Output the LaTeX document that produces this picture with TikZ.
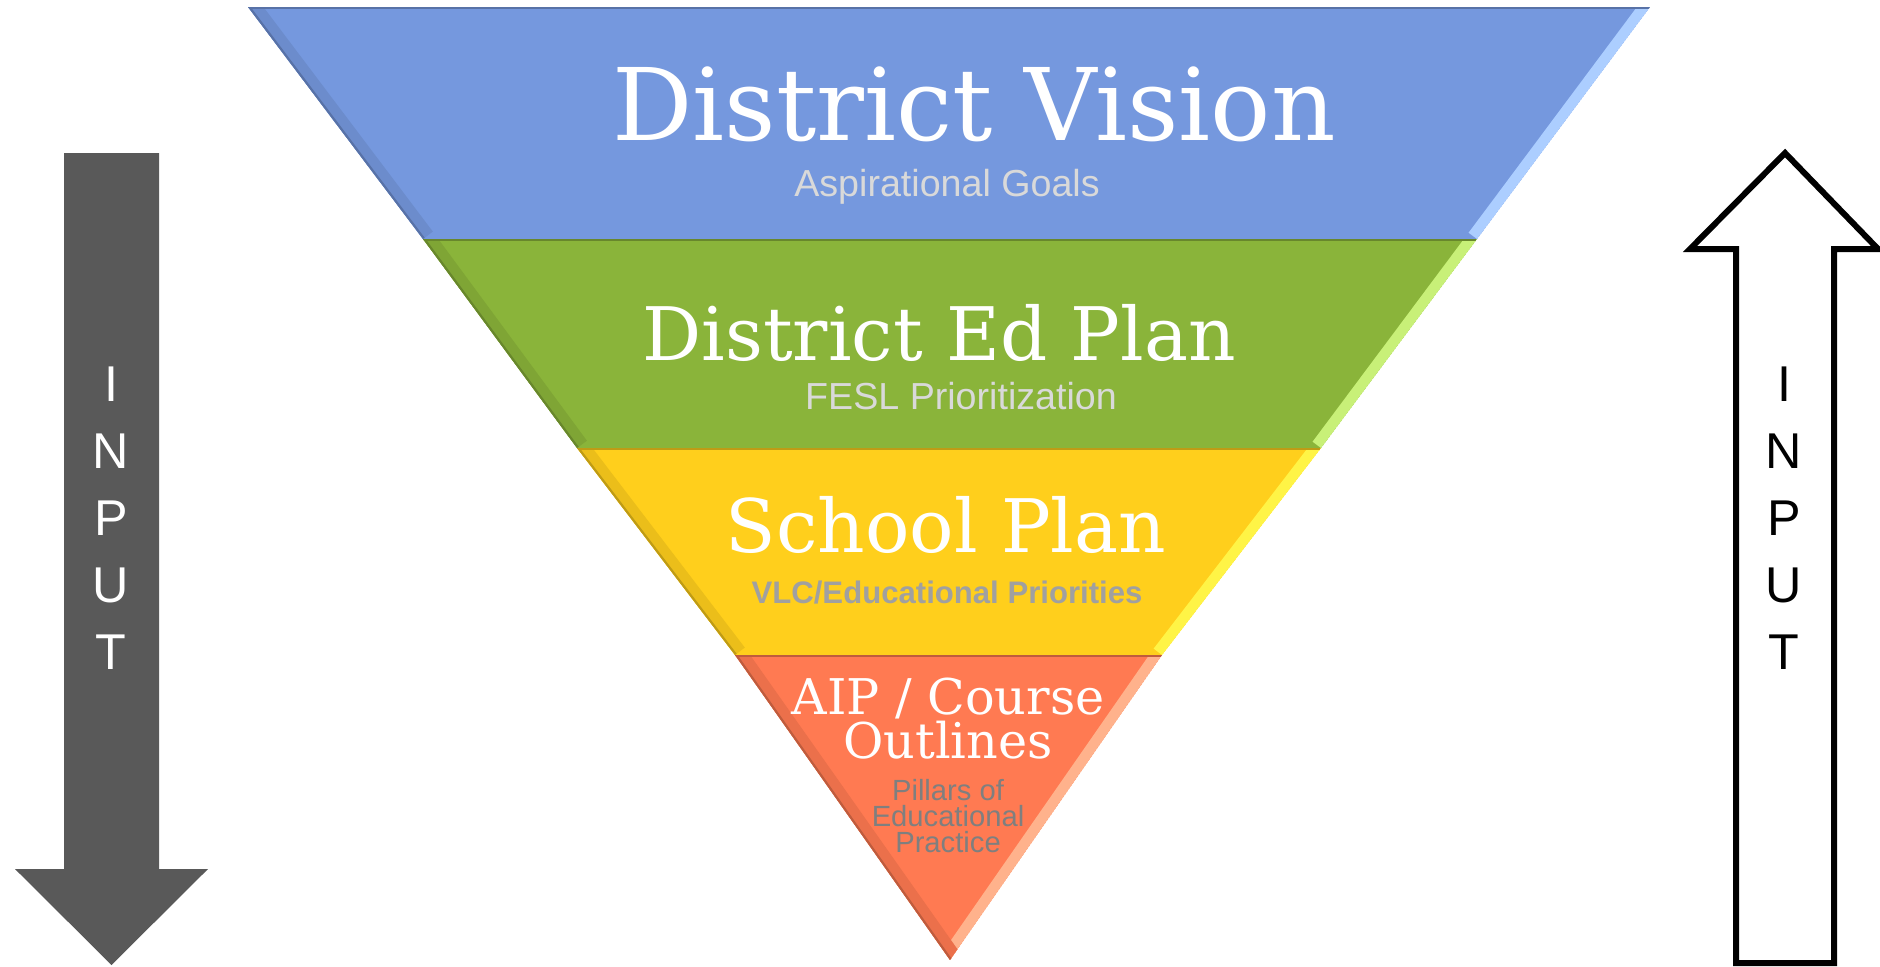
\documentclass[tikz,border=0pt]{standalone}
\usepackage{fontspec}
\usepackage{xcolor}
\usetikzlibrary{positioning}
\newfontfamily\slabfont{DejaVu Serif}
\newfontfamily\robofont{Liberation Sans}
\definecolor{vision}{RGB}{117, 152, 222}
\definecolor{visionhi}{RGB}{172, 206, 255}
\definecolor{edplan}{RGB}{138, 180, 58}
\definecolor{edplanhi}{RGB}{200, 240, 120}
\definecolor{school}{RGB}{255, 207, 28}
\definecolor{schoolhi}{RGB}{255, 244, 70}
\definecolor{aip}{RGB}{255, 122, 82}
\definecolor{aiphi}{RGB}{255, 178, 140}
\definecolor{arrowgray}{RGB}{89, 89, 89}
\definecolor{lightsub}{RGB}{217, 217, 217}
\definecolor{midsub}{RGB}{160, 160, 160}
\definecolor{darksub}{RGB}{127, 127, 127}
\tikzstyle{title} = [
    text=white,
    inner sep=0pt,
    anchor=base,
    font=\slabfont\fontsize{21}{21}\selectfont
]
\tikzstyle{subtitle} = [
    inner sep=0pt,
    anchor=base,
    font=\robofont\fontsize{10.7}{10.7}\selectfont
]
\tikzstyle{inputtxt} = [
    inner sep=0pt,
    font=\robofont\fontsize{14.3}{14.3}\selectfont
]

\begin{document}
\begin{tikzpicture}[x=0.01cm, y=-0.01cm]
        \useasboundingbox (0,0) rectangle (1880,966);
        % bands of the funnel
        \foreach \col/\hi/\ty/\tl/\tr/\by/\bl/\br in {
            vision/visionhi/7/248/1650/239/423/1477,
            edplan/edplanhi/239/423/1477/448/577/1321,
            school/schoolhi/448/577/1321/655/735/1162,
            aip/aiphi/655/735/1162/960/950/950} {
            \begin{scope}
                \clip (\tl,\ty) -- (\tr,\ty) -- (\br,\by) -- (\bl,\by) -- cycle;
                \fill[\col] (\tl,\ty) -- (\tr,\ty) -- (\br,\by) -- (\bl,\by) -- cycle;
                \draw[\hi, line width=6pt] (\tr,\ty) -- (\br,\by);
                \draw[\col!92!black, line width=7pt] (\tl,\ty) -- (\bl,\by);
                \draw[\col!75!black, line width=1.2pt] (\tl,\ty) -- (\bl,\by);
                \draw[\col!75!black, line width=1.2pt] (\tl,\ty) -- (\tr,\ty);
            \end{scope}
        }

        \node[title, font=\slabfont\fontsize{28.5}{28.5}\selectfont] (vis) at (974,140) {District Vision};
        \node[subtitle, text=lightsub] (goals) at (947,196) {Aspirational Goals};

        \node[title] (edp) at (939,360) {District Ed Plan};
        \node[subtitle, text=lightsub] (fesl) at (961,409) {FESL Prioritization};

        \node[title] (sch) at (946,552) {School Plan};
        \node[subtitle, text=midsub, font=\robofont\bfseries\fontsize{8.85}{8.85}\selectfont] (vlc) at (947,603) {VLC/Educational Priorities};

        \node[title, font=\slabfont\fontsize{14}{14}\selectfont] (aipa) at (948,714) {AIP / Course};
        \node[title, font=\slabfont\fontsize{14}{14}\selectfont] (aipb) at (948,758) {Outlines};
        \node[subtitle, text=darksub, font=\robofont\fontsize{8.3}{8.3}\selectfont] (pil1) at (948,800) {Pillars of};
        \node[subtitle, text=darksub, font=\robofont\fontsize{8.3}{8.3}\selectfont] (pil2) at (948,826) {Educational};
        \node[subtitle, text=darksub, font=\robofont\fontsize{8.3}{8.3}\selectfont] (pil3) at (948,852) {Practice};

        % input arrows
        \fill[arrowgray] (64,153) -- (159,153) -- (159,869) -- (208,869)
            -- (111.5,965) -- (15,869) -- (64,869) -- cycle;
        \draw[line width=1.7pt, fill=white, line join=miter] (1736,963) -- (1736,249)
            -- (1690,249) -- (1785,153) -- (1878,249) -- (1834,249) -- (1834,963) -- cycle;

        \foreach \ch [count=\i] in {I,N,P,U,T} {
            \node[inputtxt, text=white] (inl\i) at (111,{384+67*(\i-1)}) {\ch};
            \node[inputtxt] (inr\i) at (1784,{384+67*(\i-1)}) {\ch};
        }
    \end{tikzpicture}
\end{document}
